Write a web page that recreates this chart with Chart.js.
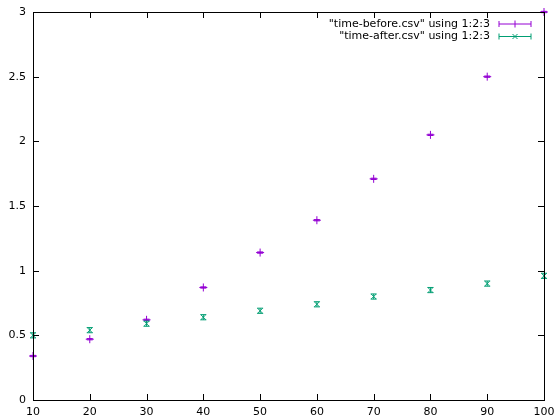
<!DOCTYPE html>
<html>
<head>
<meta charset="utf-8">
<script src="https://cdn.jsdelivr.net/npm/chart.js@4"></script>
<style>
  html, body { margin: 0; padding: 0; background: #fff; }
  #wrap { width: 556px; height: 420px; }
</style>
</head>
<body>
<div id="wrap"><canvas id="timeChart" width="556" height="420"></canvas></div>
<script>
const sizes = [10, 20, 30, 40, 50, 60, 70, 80, 90, 100];
const timeBefore = [0.34, 0.47, 0.62, 0.87, 1.14, 1.39, 1.71, 2.05, 2.5, 3.0];
const errBefore = [0.005, 0.005, 0.005, 0.005, 0.005, 0.005, 0.005, 0.005, 0.005, 0.005];
const timeAfter = [0.5, 0.54, 0.59, 0.64, 0.69, 0.74, 0.8, 0.85, 0.9, 0.96];
const errAfter = [0.02, 0.02, 0.02, 0.02, 0.02, 0.02, 0.02, 0.02, 0.02, 0.02];
const xTicks = [10, 20, 30, 40, 50, 60, 70, 80, 90, 100];
const yTicks = [0, 0.5, 1, 1.5, 2, 2.5, 3];

const FONT = 'DejaVu Sans';
const PURPLE = '#9400d3';
const GREEN = '#009e73';

// gnuplot-ish frame: box border, inward ticks on all sides, error bars, key
const gnuplotFrame = {
    id: 'gnuplotFrame',
    afterDatasetsDraw(chart) {
        const ctx = chart.ctx;
        const a = chart.chartArea;
        const xs = chart.scales.x, ys = chart.scales.y;
        ctx.save();

        // error bars
        chart.data.datasets.forEach(ds => {
            ctx.strokeStyle = ds.borderColor;
            ctx.lineWidth = 1;
            ds.data.forEach((p, i) => {
                const px = xs.getPixelForValue(p.x);
                const y1 = ys.getPixelForValue(p.y - ds.errors[i]);
                const y2 = ys.getPixelForValue(p.y + ds.errors[i]);
                ctx.beginPath();
                ctx.moveTo(px, y1); ctx.lineTo(px, y2);
                ctx.moveTo(px - 3, y1); ctx.lineTo(px + 3, y1);
                ctx.moveTo(px - 3, y2); ctx.lineTo(px + 3, y2);
                ctx.stroke();
            });
        });

        // border + ticks
        ctx.strokeStyle = '#000';
        ctx.lineWidth = 1;
        ctx.strokeRect(Math.round(a.left) + 0.5, Math.round(a.top) + 0.5,
            Math.round(a.right - a.left), Math.round(a.bottom - a.top));
        const t = 6;
        ctx.beginPath();
        xTicks.forEach(v => {
            const px = Math.round(xs.getPixelForValue(v)) + 0.5;
            ctx.moveTo(px, a.bottom); ctx.lineTo(px, a.bottom - t);
            ctx.moveTo(px, a.top); ctx.lineTo(px, a.top + t);
        });
        yTicks.forEach(v => {
            const py = Math.round(ys.getPixelForValue(v)) + 0.5;
            ctx.moveTo(a.left, py); ctx.lineTo(a.left + t, py);
            ctx.moveTo(a.right, py); ctx.lineTo(a.right - t, py);
        });
        ctx.stroke();

        // key
        ctx.font = '11px "' + FONT + '"';
        ctx.textAlign = 'right';
        ctx.textBaseline = 'middle';
        chart.data.datasets.forEach((ds, i) => {
            const ky = a.top + 12 + i * 12.5;
            ctx.fillStyle = '#000';
            ctx.fillText(ds.label, a.right - 54, ky);
            const x1 = a.right - 45, x2 = a.right - 13, xm = (x1 + x2) / 2;
            ctx.strokeStyle = ds.borderColor;
            ctx.beginPath();
            ctx.moveTo(x1, ky); ctx.lineTo(x2, ky);
            ctx.moveTo(x1, ky - 3); ctx.lineTo(x1, ky + 3);
            ctx.moveTo(x2, ky - 3); ctx.lineTo(x2, ky + 3);
            if (ds.pointStyle === 'cross') {
                ctx.moveTo(xm, ky - 3.5); ctx.lineTo(xm, ky + 3.5);
            } else {
                ctx.moveTo(xm - 2.5, ky - 2.5); ctx.lineTo(xm + 2.5, ky + 2.5);
                ctx.moveTo(xm - 2.5, ky + 2.5); ctx.lineTo(xm + 2.5, ky - 2.5);
            }
            ctx.stroke();
        });
        ctx.restore();
    }
};

const ctx = document.getElementById('timeChart').getContext('2d');
new Chart(ctx, {
    type: 'scatter',
    data: {
        datasets: [{
            label: '"time-before.csv" using 1:2:3',
            data: sizes.map((s, i) => ({ x: s, y: timeBefore[i] })),
            errors: errBefore,
            borderColor: PURPLE,
            backgroundColor: PURPLE,
            pointStyle: 'cross',
            pointRadius: 4,
            borderWidth: 1,
            clip: false
        }, {
            label: '"time-after.csv" using 1:2:3',
            data: sizes.map((s, i) => ({ x: s, y: timeAfter[i] })),
            errors: errAfter,
            borderColor: GREEN,
            backgroundColor: GREEN,
            pointStyle: 'crossRot',
            pointRadius: 3.5,
            borderWidth: 1,
            clip: false
        }]
    },
    options: {
        responsive: false,
        animation: false,
        layout: { padding: { top: 12, right: 12, left: 0, bottom: 0 } },
        plugins: { legend: { display: false }, tooltip: { enabled: false } },
        scales: {
            x: {
                type: 'linear', min: 10, max: 100,
                afterBuildTicks: s => { s.ticks = xTicks.map(v => ({ value: v })); },
                afterFit: s => { s.height = 20; s.paddingLeft = 0; s.paddingRight = 0; },
                grid: { display: false, drawTicks: false },
                border: { display: false },
                ticks: { color: '#000', padding: 6, maxRotation: 0, font: { family: FONT, size: 11 } }
            },
            y: {
                min: 0, max: 3,
                afterBuildTicks: s => { s.ticks = yTicks.map(v => ({ value: v })); },
                afterFit: s => { s.width = 33; s.paddingTop = 0; s.paddingBottom = 0; },
                grid: { display: false, drawTicks: false },
                border: { display: false },
                ticks: { color: '#000', padding: 7, font: { family: FONT, size: 11 },
                         callback: v => String(v) }
            }
        }
    },
    plugins: [gnuplotFrame]
});
</script>
</body>
</html>
